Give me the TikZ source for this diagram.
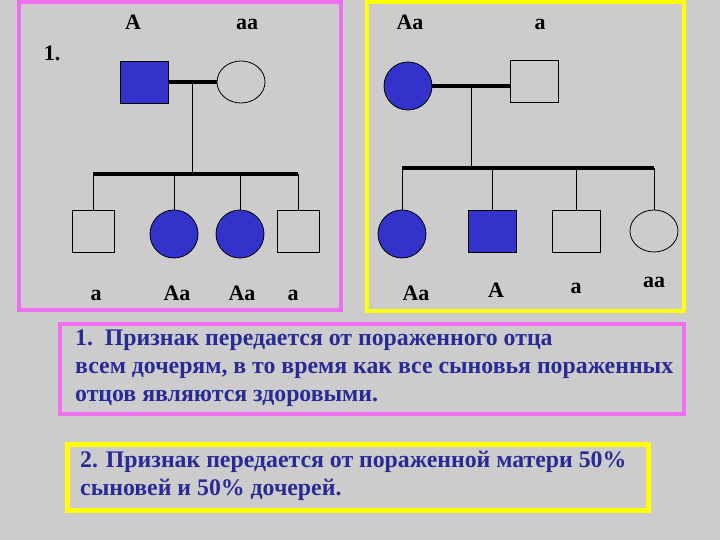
\documentclass[tikz,border=0pt]{standalone}
\usepackage{fontspec}
\setmainfont{Liberation Serif}
\usetikzlibrary{shapes.geometric}
\definecolor{BackClr}{RGB}{204,204,204}
\definecolor{AffClr}{RGB}{51,51,204}
\definecolor{NoteClr}{RGB}{42,42,150}
\definecolor{PinkClr}{RGB}{240,110,240}
\definecolor{YellClr}{RGB}{255,255,0}

\begin{document}
\begin{tikzpicture}[x=1pt,y=-1pt,
  male/.style={draw=black,line width=0.8pt,rectangle,minimum width=48pt,minimum height=42pt,inner sep=0pt},
  female/.style={draw=black,line width=0.8pt,ellipse,minimum width=48pt,minimum height=48pt,inner sep=0pt},
  affected/.style={fill=AffClr},
  geno/.style={font=\bfseries\fontsize{22}{26}\selectfont,anchor=base,inner sep=0pt},
  mate/.style={line width=4pt},
  sibs/.style={line width=3.5pt},
  descent/.style={line width=0.9pt},
  note/.style={font=\bfseries\fontsize{23.8}{28}\selectfont,text=NoteClr,align=left,inner sep=0pt}]

\fill[BackClr] (0,0) rectangle (720,540);

% frames
\draw[PinkClr,line width=4pt] (19,2) rectangle (341,310);
\draw[YellClr,line width=4pt] (367,2) rectangle (684,311);
\draw[PinkClr,line width=4pt] (60,324) rectangle (684,414);
\draw[YellClr,line width=5pt] (67,444) rectangle (648,510);

% pedigree 1
\node[male,affected] (f1) at (144,82) {};
\node[female,minimum height=42pt] (m1) at (241,82) {};
\coordinate (s1) at (192,174);
\node[male,minimum width=42pt] (c11) at (93,231) {};
\node[female,affected] (c12) at (174,234) {};
\node[female,affected] (c13) at (240,234) {};
\node[male,minimum width=42pt] (c14) at (298,231) {};

\draw[mate] (f1.east) -- coordinate (d1) (m1.west);
\draw[descent] (d1) -- (d1 |- s1);
\draw[sibs] (c11.north |- s1) -- (c14.north |- s1);
\foreach \c in {c11,c12,c13,c14}
  \draw[descent] (\c.north) -- (\c.north |- s1);

\node[geno] (g1) at (52,61) {1.};
\node[geno] (gf1) at (133,30) {A};
\node[geno] (gm1) at (247,30) {aa};
\node[geno] (g11) at (96,300) {a};
\node[geno] (g12) at (177,300) {Aa};
\node[geno] (g13) at (242,300) {Aa};
\node[geno] (g14) at (293,300) {a};

% pedigree 2
\node[female,affected] (m2) at (408,86) {};
\node[male] (f2) at (534,81) {};
\coordinate (s2) at (468,168);
\node[female,affected] (c21) at (402,234) {};
\node[male,affected] (c22) at (492,231) {};
\node[male] (c23) at (576,231) {};
\node[female,minimum height=42pt] (c24) at (654,231) {};

\draw[mate] (m2.east) -- coordinate (d2) (f2.west |- m2.east);
\draw[descent] (d2) -- (d2 |- s2);
\draw[sibs] (c21.north |- s2) -- (c24.north |- s2);
\foreach \c in {c21,c22,c23,c24}
  \draw[descent] (\c.north) -- (\c.north |- s2);

\node[geno] (gm2) at (410,30) {Aa};
\node[geno] (gf2) at (540,30) {a};
\node[geno] (g21) at (416,300) {Aa};
\node[geno] (g22) at (496,297) {A};
\node[geno] (g23) at (576,293) {a};
\node[geno] (g24) at (654,287) {aa};

% notes (base = last line)
\node[note,anchor=base west] (n1) at (75,401) {1.\ \ Признак передается от пораженного отца\\всем дочерям, в то время как все сыновья пораженных\\отцов являются здоровыми.};
\node[note,anchor=base west] (n2) at (80,495) {2. Признак передается от пораженной матери 50\%\\сыновей и 50\% дочерей.};

\end{tikzpicture}
\end{document}
